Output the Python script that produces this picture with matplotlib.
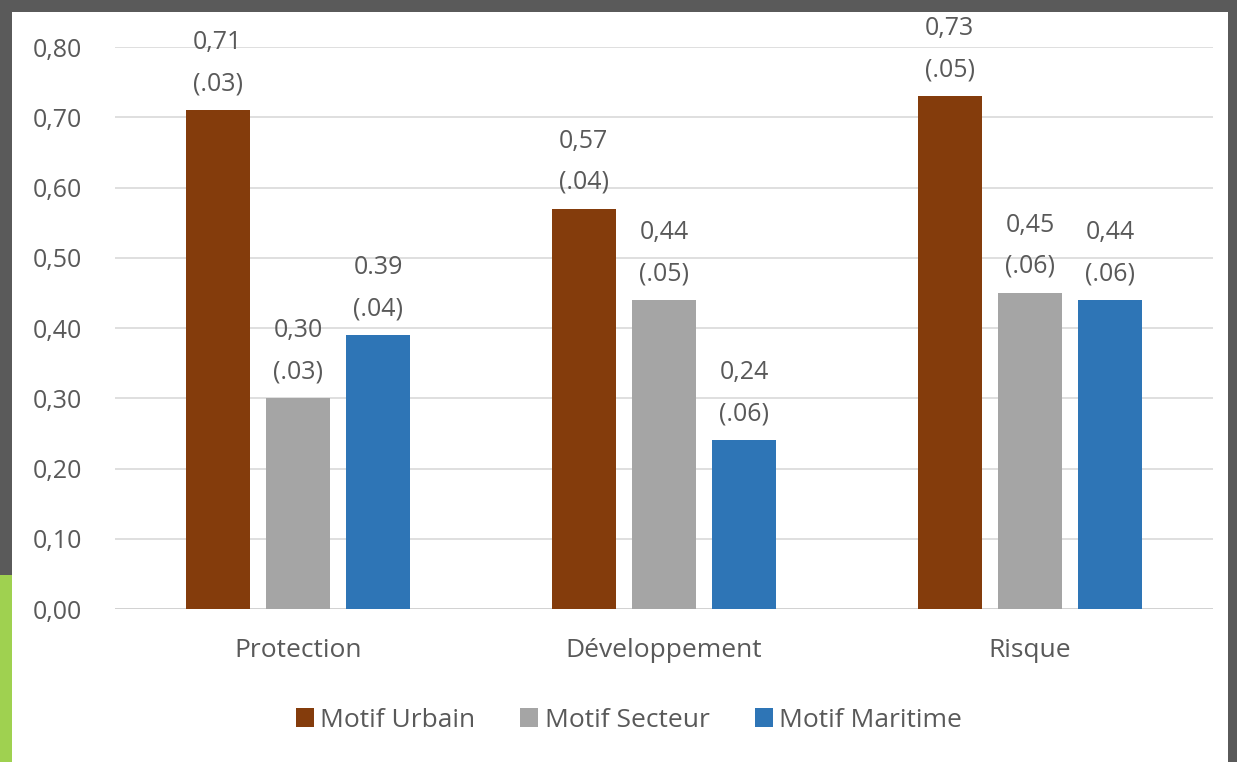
import numpy as np
import matplotlib
matplotlib.use("Agg")
import matplotlib.pyplot as plt
from matplotlib.patches import Rectangle

# data
categories = ["Protection", "Développement", "Risque"]
series = ["Motif Urbain", "Motif Secteur", "Motif Maritime"]
urbain = [0.71, 0.57, 0.73]
secteur = [0.30, 0.44, 0.45]
maritime = [0.39, 0.24, 0.44]
urbain_lbl = ["0,71\n(.03)", "0,57\n(.04)", "0,73\n(.05)"]
secteur_lbl = ["0,30\n(.03)", "0,44\n(.05)", "0,45\n(.06)"]
maritime_lbl = ["0.39\n(.04)", "0,24\n(.06)", "0,44\n(.06)"]
yticks = [0.0, 0.1, 0.2, 0.3, 0.4, 0.5, 0.6, 0.7, 0.8]

colors = ["#843C0C", "#A5A5A5", "#2E75B6"]
txt = "#595959"

plt.rcParams['font.family'] = ['Open Sans', 'DejaVu Sans']

fig = plt.figure(figsize=(12.37, 7.62), dpi=100, facecolor="#5a5a5a")
W, H = 1237, 762
# white panel + green corner of the slide behind it
fig.patches.append(Rectangle((0, 0), 12 / W, (762 - 575) / H, transform=fig.transFigure,
                             facecolor="#9fd150", edgecolor="none", zorder=-5))
fig.patches.append(Rectangle((12 / W, 0), (1228 - 12) / W, (762 - 12) / H, transform=fig.transFigure,
                             facecolor="white", edgecolor="none", zorder=-5))

ax = fig.add_axes([115 / W, 1 - 609 / H, (1213 - 115) / W, (609 - 47) / H])
ax.set_facecolor("none")

x = np.arange(len(categories))
w = 0.175
off = 0.219
for i, (vals, lbls) in enumerate([(urbain, urbain_lbl), (secteur, secteur_lbl), (maritime, maritime_lbl)]):
    pos = x + (i - 1) * off
    ax.bar(pos, vals, width=w, color=colors[i], label=series[i], zorder=3)
    for p, v, l in zip(pos, vals, lbls):
        ax.annotate(l, (p, v), xytext=(0, 10), textcoords="offset points",
                    ha="center", va="bottom", fontsize=18, color=txt, linespacing=1.85)

ax.set_ylim(0, 0.8)
ax.set_xlim(-0.5, 2.5)
ax.set_yticks(yticks)
ax.set_yticklabels([f"{t:.2f}".replace(".", ",") for t in yticks], fontsize=18, color=txt)
ax.set_xticks(x)
ax.set_xticklabels(categories, fontsize=19, color=txt)
ax.tick_params(axis="both", length=0)
ax.tick_params(axis="y", pad=59)
ax.tick_params(axis="x", pad=21)
ax.yaxis.grid(True, color="#d9d9d9", linewidth=1.2, zorder=0)
for s in ax.spines.values():
    s.set_visible(False)
ax.axhline(0, color="#d0d0d0", linewidth=1.2, zorder=2)
for lab in ax.get_yticklabels():
    lab.set_horizontalalignment("left")

ax.legend(loc="center", bbox_to_anchor=(0.468, -0.198), ncol=3, frameon=False, fontsize=19,
          handlelength=0.68, handleheight=0.68, handletextpad=0.25, columnspacing=1.7,
          labelcolor=txt)

fig.savefig("out.png", dpi=100, facecolor=fig.get_facecolor())
